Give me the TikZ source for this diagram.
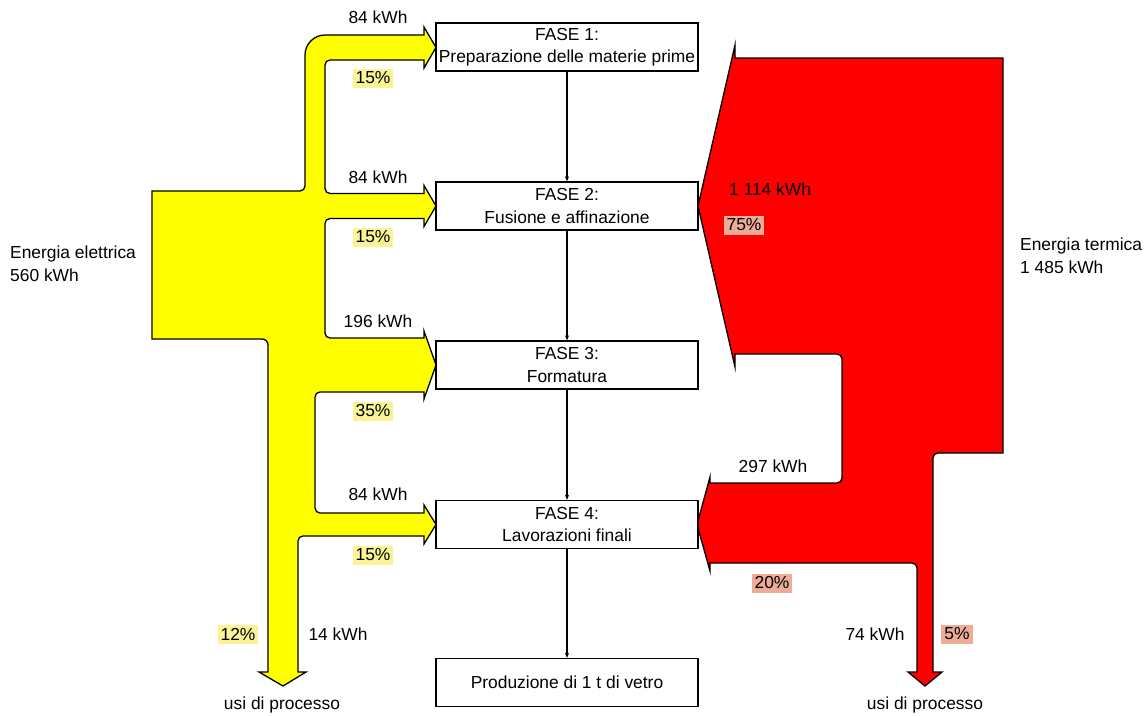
\documentclass[tikz,border=0pt]{standalone}
\usepackage{fontspec}
\setmainfont{Liberation Sans}
\usetikzlibrary{arrows.meta}

\definecolor{elec}{RGB}{255,255,0}
\definecolor{therm}{RGB}{255,0,0}
\definecolor{hlyellow}{RGB}{250,244,150}
\definecolor{hlred}{RGB}{238,172,152}

\begin{document}
\begin{tikzpicture}[x=1pt,y=-1pt,
  every node/.style={font=\fontsize{17.4}{22.5}\selectfont, text=black},
  phase/.style={draw, line width=1.3pt, fill=white, minimum width=262pt,
    minimum height=48pt, align=center, inner sep=0pt},
  flow/.style={draw=black, line width=1.3pt, line join=miter},
  qty/.style={anchor=base, inner sep=0pt},
  sideinfo/.style={anchor=base west, inner sep=0pt, align=left},
  shareY/.style={fill=hlyellow, inner xsep=3pt, inner ysep=0pt, minimum height=19pt},
  shareR/.style={fill=hlred, inner xsep=3pt, inner ysep=0pt, minimum height=19pt},
  link/.style={line width=1.1pt, -{Stealth[length=5pt,width=4pt]}}
]
\useasboundingbox (0,0) rectangle (1148,715);

% electrical energy flow
\path[flow, fill=elec]
  (152,191) -- (300,191) .. controls (302.8,191) and (305,188.8) .. (305,186)
  -- (305,55) .. controls (305,44) and (314,35) .. (325,35)
  -- (424,35) -- (424,27) -- (436,47.5) -- (424,68) -- (424,60)
  -- (330,60) .. controls (327.2,60) and (325,62.2) .. (325,65)
  -- (325,188.5) .. controls (325,191.3) and (327.2,193.5) .. (330,193.5)
  -- (424,193.5) -- (424,185.5) -- (436,206) -- (424,226.5) -- (424,218.5)
  -- (330,218.5) .. controls (327.2,218.5) and (325,220.7) .. (325,223.5)
  -- (325,333) .. controls (325,335.8) and (327.2,338) .. (330,338)
  -- (424,338) -- (424,331) -- (436,365) -- (424,399) -- (424,392)
  -- (320,392) .. controls (317.2,392) and (315,394.2) .. (315,397)
  -- (315,508) .. controls (315,510.8) and (317.2,513) .. (320,513)
  -- (424,513) -- (424,505) -- (436,524.5) -- (424,544) -- (424,536)
  -- (303,536) .. controls (300.2,536) and (298,538.2) .. (298,541)
  -- (298,672) -- (306,672) -- (283,686) -- (259,672) -- (268,672)
  -- (268,345) .. controls (268,341.7) and (265.3,339) .. (262,339)
  -- (152,339) -- cycle;

% thermal energy flow
\path[flow, fill=therm]
  (735,58) -- (1003,58) -- (1003,453)
  -- (938,453) .. controls (935.2,453) and (933,455.2) .. (933,458)
  -- (933,672) -- (942,672) -- (925,686) -- (908,672) -- (917,672)
  -- (917,568) .. controls (917,565.2) and (914.8,563) .. (912,563)
  -- (710,563) -- (710,571) -- (697,524.5) -- (710,477) -- (710,483)
  -- (837,483) .. controls (839.8,483) and (842,480.8) .. (842,478)
  -- (842,359) .. controls (842,356.2) and (839.8,354) .. (837,354)
  -- (735,354) -- (735,367) -- (698,206) -- (735,45) -- cycle;

% process phases
\node[phase] (f1) at (567,47)    {FASE 1:\\Preparazione delle materie prime};
\node[phase] (f2) at (567,206)   {FASE 2:\\Fusione e affinazione};
\node[phase] (f3) at (567,365)   {FASE 3:\\Formatura};
\node[phase] (f4) at (567,524.5) {FASE 4:\\Lavorazioni finali};
\node[phase] (f5) at (567,682.5) {Produzione di 1 t di vetro};

\draw[link] (f1.south) -- (f2.north);
\draw[link] (f2.south) -- (f3.north);
\draw[link] (f3.south) -- (f4.north);
\draw[link] (f4.south) -- (f5.north);

% electrical quantities
\node[qty] (e1) at (378,23)  {84 kWh};
\node[qty] (e2) at (378,183) {84 kWh};
\node[qty] (e3) at (378,327) {196 kWh};
\node[qty] (e4) at (378,500) {84 kWh};
\node[qty] (e5) at (338,640) {14 kWh};
\node[shareY] (p1) at (373,78)  {15\%};
\node[shareY] (p2) at (373,237) {15\%};
\node[shareY] (p3) at (373,411) {35\%};
\node[shareY] (p4) at (373,555) {15\%};
\node[shareY] (p5) at (238,634) {12\%};
\node[qty] (eu) at (282,709) {usi di processo};
\node[sideinfo] (ein) at (10,281) {Energia elettrica\\560 kWh};

% thermal quantities
\node[qty] (t1) at (770,195) {1 114 kWh};
\node[qty] (t2) at (773,472) {297 kWh};
\node[qty] (t3) at (875,640) {74 kWh};
\node[shareR] (r1) at (744,225) {75\%};
\node[shareR] (r2) at (772,583) {20\%};
\node[shareR] (r3) at (957,634) {5\%};
\node[qty] (tu) at (925,709) {usi di processo};
\node[sideinfo] (tin) at (1020,273) {Energia termica\\1 485 kWh};
\end{tikzpicture}
\end{document}
